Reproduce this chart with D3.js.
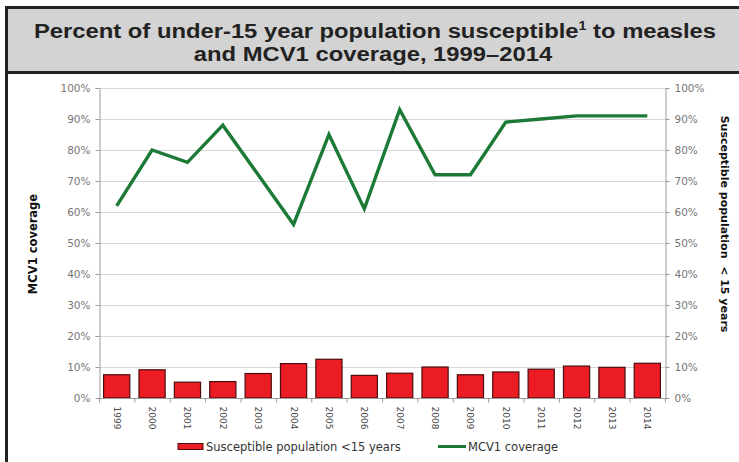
<!DOCTYPE html>
<html>
<head>
<meta charset="utf-8">
<script src="https://cdn.jsdelivr.net/npm/d3@7"></script>
<style>
  body { margin: 0; background: #fff; }
  svg { display: block; }
</style>
</head>
<body>
<svg id="chart" width="739" height="462"></svg>
<script>
const years = ['1999', '2000', '2001', '2002', '2003', '2004', '2005', '2006',
    '2007', '2008', '2009', '2010', '2011', '2012', '2013', '2014'];
// percent of under-15 population susceptible (bars, right axis)
const susceptible = [7.5, 9.1, 5.1, 5.3, 7.9, 11.1, 12.5, 7.3, 8.0, 10.0, 7.5, 8.4, 9.3, 10.3, 9.9, 11.2];
// MCV1 coverage percent (line, left axis)
const mcv1 = [62, 80, 76, 88, 72, 56, 85, 61, 93, 72, 72, 89, 90, 91, 91, 91];
const tickValues = [0, 10, 20, 30, 40, 50, 60, 70, 80, 90, 100];

const svg = d3.select('#chart');
const tickFont = '"DejaVu Sans", Verdana, sans-serif';

// frame + title box
svg.append('rect')
    .attr('x', 6.5).attr('y', 7.5)
    .attr('width', 740).attr('height', 470)
    .attr('fill', '#fff')
    .attr('stroke', '#222').attr('stroke-width', 3);
svg.append('rect')
    .attr('x', 6.5).attr('y', 7.5)
    .attr('width', 740).attr('height', 65)
    .attr('fill', '#d3d3d3')
    .attr('stroke', '#222').attr('stroke-width', 3);

// title, stretched horizontally like the source's wide setting
const titleG = svg.append('g')
    .attr('font-family', '"Liberation Sans", Arial, sans-serif')
    .attr('font-weight', 'bold')
    .attr('font-size', 20)
    .attr('fill', '#222')
    .attr('text-anchor', 'middle');
const t1 = titleG.append('text')
    .attr('transform', 'translate(375,38) scale(1.19,1)');
t1.append('tspan').text('Percent of under-15 year population susceptible');
t1.append('tspan').attr('font-size', 12).attr('dy', -8).text('1');
t1.append('tspan').attr('dy', 8).text(' to measles');
titleG.append('text')
    .attr('transform', 'translate(373,61) scale(1.19,1)')
    .text('and MCV1 coverage, 1999\u20132014');

const margin = {left: 99, right: 665, top: 88, bottom: 398};

const x = d3.scaleBand()
    .domain(years)
    .range([margin.left, margin.right])
    .paddingInner(0.26)
    .paddingOuter(0.13);
const y = d3.scaleLinear().domain([0, 100]).range([margin.bottom, margin.top]);

// gridlines
svg.append('g')
  .selectAll('line')
  .data(tickValues.slice(1))
  .join('line')
    .attr('x1', margin.left).attr('x2', margin.right)
    .attr('y1', (d) => y(d) + 0.5).attr('y2', (d) => y(d) + 0.5)
    .attr('stroke', '#d6d6d6');

// bars
svg.append('g')
  .selectAll('rect')
  .data(susceptible)
  .join('rect')
    .attr('x', (d, i) => x(years[i]))
    .attr('y', (d) => y(d))
    .attr('width', x.bandwidth())
    .attr('height', (d) => y(0) - y(d))
    .attr('fill', '#ec1c24')
    .attr('stroke', '#4a0d0d')
    .attr('stroke-width', 1.2);

// MCV1 line
const line = d3.line()
    .x((d, i) => x(years[i]) + x.bandwidth() / 2)
    .y((d) => y(d));
svg.append('path')
    .datum(mcv1)
    .attr('d', line)
    .attr('fill', 'none')
    .attr('stroke', '#1c7a36')
    .attr('stroke-width', 3.4)
    .attr('stroke-linejoin', 'miter');

// axes
function styleAxis(g) {
    g.select('.domain').attr('stroke', '#999');
    g.selectAll('.tick line').attr('stroke', '#999');
    g.selectAll('.tick text')
        .attr('font-family', tickFont)
        .attr('font-size', 10.5)
        .attr('fill', '#777');
}

svg.append('g')
    .attr('transform', `translate(${margin.left + 0.5},0)`)
    .call(d3.axisLeft(y).tickValues(tickValues).tickSize(4).tickSizeOuter(0)
        .tickFormat((d) => d + '%'))
    .call(styleAxis)
    .call((g) => g.selectAll('.tick text').attr('x', -9));

svg.append('g')
    .attr('transform', `translate(${margin.right + 0.5},0)`)
    .call(d3.axisRight(y).tickValues(tickValues).tickSize(4).tickSizeOuter(0)
        .tickFormat((d) => d + '%'))
    .call(styleAxis)
    .call((g) => g.selectAll('.tick text').attr('x', 9));

// x axis: ticks between categories
const xAxis = svg.append('g')
    .attr('transform', `translate(0,${margin.bottom + 0.5})`);
xAxis.append('line')
    .attr('x1', margin.left).attr('x2', margin.right + 4)
    .attr('stroke', '#999');
const step = x.step();
xAxis.selectAll('line.sep')
  .data(d3.range(years.length + 1))
  .join('line')
    .attr('class', 'sep')
    .attr('x1', (d) => margin.left + d * step + 0.5)
    .attr('x2', (d) => margin.left + d * step + 0.5)
    .attr('y1', 0).attr('y2', 4)
    .attr('stroke', '#999');
xAxis.selectAll('text')
  .data(years)
  .join('text')
    .attr('transform', (d) => `translate(${x(d) + x.bandwidth() / 2 - 3},8) rotate(90)`)
    .attr('font-family', tickFont)
    .attr('font-size', 9)
    .attr('fill', '#444')
    .text((d) => d);

// axis titles
svg.append('text')
    .attr('transform', `translate(37,244) rotate(-90)`)
    .attr('text-anchor', 'middle')
    .attr('font-family', tickFont)
    .attr('font-weight', 'bold')
    .attr('font-size', 11.5)
    .attr('fill', '#111')
    .text('MCV1 coverage');

svg.append('text')
    .attr('transform', `translate(721,224) rotate(90)`)
    .attr('text-anchor', 'middle')
    .attr('font-family', tickFont)
    .attr('font-weight', 'bold')
    .attr('font-size', 11)
    .attr('fill', '#111')
    .style('white-space', 'pre')
    .text('Susceptible population  < 15 years');

// legend
const legend = svg.append('g')
    .attr('font-family', tickFont)
    .attr('font-size', 11.5)
    .attr('fill', '#333');
legend.append('rect')
    .attr('x', 178).attr('y', 443.5)
    .attr('width', 25).attr('height', 6)
    .attr('fill', '#ec1c24')
    .attr('stroke', '#4a0d0d');
legend.append('text')
    .attr('x', 206).attr('y', 451)
    .text('Susceptible population <15 years');
legend.append('line')
    .attr('x1', 438).attr('x2', 466)
    .attr('y1', 446.5).attr('y2', 446.5)
    .attr('stroke', '#1c7a36')
    .attr('stroke-width', 3);
legend.append('text')
    .attr('x', 468).attr('y', 451)
    .text('MCV1 coverage');
</script>
</body>
</html>
